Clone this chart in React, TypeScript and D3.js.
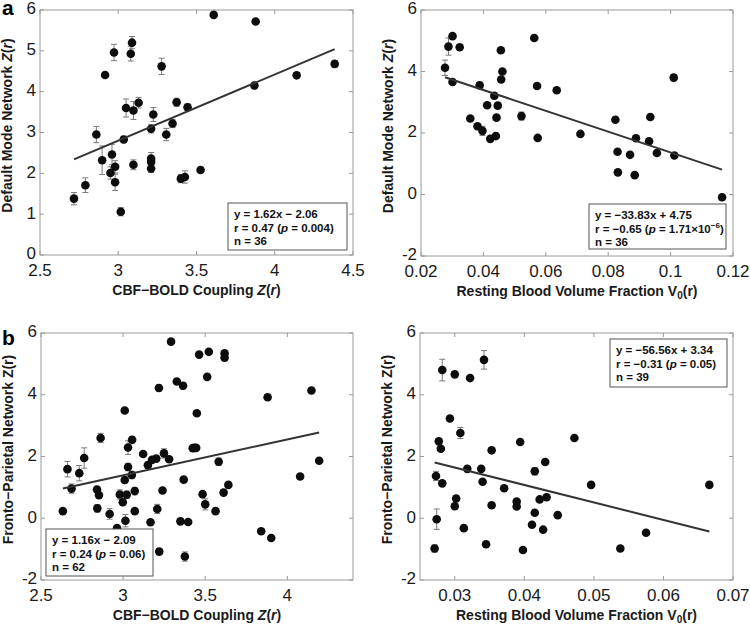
import React from "react";
import * as d3 from "d3";

// ---------- DATA ----------
// Panel a-left: CBF-BOLD coupling vs DMN
const x1 = [2.717, 2.79, 2.86, 2.916, 2.897, 2.95, 2.96, 2.973, 2.98, 2.98, 3.016, 3.035, 3.05, 3.08, 3.088, 3.097, 3.097, 3.13, 3.21, 3.21, 3.21, 3.21, 3.224, 3.277, 3.307, 3.347, 3.373, 3.40, 3.426, 3.443, 3.526, 3.61, 3.878, 3.87, 4.14, 4.383];
const y1 = [1.38, 1.71, 2.95, 4.41, 2.32, 2.01, 2.46, 4.96, 1.78, 2.16, 1.06, 2.83, 3.6, 4.93, 5.2, 3.54, 2.21, 3.73, 3.09, 2.36, 2.28, 2.12, 3.44, 4.62, 2.95, 3.22, 3.74, 1.87, 1.91, 3.62, 2.08, 5.88, 5.72, 4.15, 4.40, 4.68];
const e1 = [0.15, 0.18, 0.2, 0, 0.35, 0.15, 0.25, 0.2, 0.2, 0.15, 0.1, 0.08, 0.22, 0.18, 0.15, 0.22, 0.12, 0.13, 0.1, 0.15, 0, 0.1, 0.17, 0.2, 0.15, 0.1, 0.1, 0.1, 0.15, 0.08, 0, 0, 0, 0.08, 0, 0.08];

// Panel a-right: V0 vs DMN
const x2 = [0.0277, 0.0288, 0.0301, 0.0301, 0.0324, 0.0358, 0.0381, 0.0388, 0.0397, 0.0412, 0.0422, 0.0435, 0.044, 0.0442, 0.0446, 0.0456, 0.0457, 0.0461, 0.0522, 0.0563, 0.0572, 0.0574, 0.0635, 0.0711, 0.0823, 0.083, 0.0831, 0.087, 0.0889, 0.0885, 0.0931, 0.0935, 0.0956, 0.101, 0.1012, 0.1165];
const y2 = [4.12, 4.81, 5.15, 3.66, 4.79, 2.47, 2.22, 3.55, 2.07, 2.90, 1.81, 3.21, 1.90, 2.50, 2.89, 4.69, 3.74, 4.0, 2.55, 5.09, 3.53, 1.84, 3.39, 1.97, 2.43, 1.39, 0.72, 1.29, 1.83, 0.63, 1.73, 2.52, 1.35, 3.80, 1.27, -0.09];
const e2 = [0.25, 0.28, 0, 0.05, 0, 0, 0, 0.1, 0.15, 0, 0, 0.1, 0, 0, 0, 0, 0.08, 0, 0.13, 0, 0.08, 0, 0, 0, 0, 0, 0, 0.08, 0, 0, 0, 0, 0, 0.1, 0, 0];

// Panel b-left: CBF-BOLD coupling vs FPN
const x3 = [2.633, 2.661, 2.686, 2.733, 2.763, 2.841, 2.853, 2.843, 2.863, 2.918, 2.963, 2.98, 2.998, 3.01, 3.014, 3.01, 3.022, 3.03, 3.03, 3.053, 3.055, 3.071, 3.071, 3.122, 3.151, 3.167, 3.176, 3.202, 3.208, 3.218, 3.22, 3.24, 3.249, 3.28, 3.292, 3.327, 3.349, 3.365, 3.369, 3.376, 3.396, 3.424, 3.445, 3.449, 3.463, 3.484, 3.50, 3.512, 3.522, 3.563, 3.582, 3.612, 3.618, 3.618, 3.641, 3.841, 3.88, 3.902, 4.078, 4.147, 4.194, 3.435];
const y3 = [0.23, 1.59, 0.96, 1.46, 1.95, 0.93, 0.75, 0.32, 2.60, 0.14, -0.32, 0.77, 0.52, 3.49, -0.08, 1.24, 0.76, 2.29, 1.66, 1.40, 2.54, 0.88, 0.23, 2.08, 1.72, -0.13, 1.89, 1.93, 0.30, 4.22, -1.08, 0.90, 2.10, 1.91, 5.72, 4.43, -0.10, 4.29, 1.25, -1.24, -0.12, 2.27, 2.28, 3.40, 5.30, 0.78, 0.45, 4.58, 5.39, 0.23, 1.83, 0.83, 5.34, 5.20, 1.08, -0.42, 3.92, -0.64, 1.35, 4.14, 1.86, 2.28];
const e3 = [0, 0.25, 0.15, 0.25, 0.33, 0.1, 0, 0.12, 0.15, 0.17, 0, 0.15, 0.08, 0, 0.2, 0.1, 0.12, 0.22, 0.12, 0.12, 0.1, 0.12, 0, 0, 0.1, 0, 0, 0, 0.15, 0.1, 0.1, 0, 0.15, 0, 0, 0, 0, 0.1, 0, 0.15, 0, 0, 0, 0, 0, 0, 0.18, 0, 0, 0, 0.12, 0, 0, 0.1, 0, 0, 0, 0, 0, 0, 0, 0];

// Panel b-right: V0 vs FPN
const x4 = [0.0271, 0.0273, 0.0274, 0.0277, 0.028, 0.0282, 0.0282, 0.0293, 0.030, 0.030, 0.0302, 0.0308, 0.0313, 0.0318, 0.0322, 0.0338, 0.034, 0.0342, 0.0345, 0.0353, 0.0353, 0.0371, 0.0389, 0.0389, 0.0394, 0.0398, 0.0411, 0.0415, 0.0415, 0.0422, 0.0427, 0.043, 0.0432, 0.0448, 0.0472, 0.0496, 0.0538, 0.0575, 0.0666];
const y4 = [-0.98, 1.37, -0.03, 2.49, 2.25, 1.13, 4.80, 3.23, 4.66, 0.39, 0.64, 2.76, -0.32, 1.60, 4.54, 1.60, 1.18, 5.13, -0.84, 0.42, 2.20, 0.97, 0.54, 0.38, 2.47, -1.03, -0.21, 1.52, 0.18, 0.61, -0.37, 1.82, 0.68, 0.10, 2.60, 1.08, -0.98, -0.47, 1.08];
const e4 = [0.12, 0.15, 0.33, 0, 0, 0, 0.35, 0.08, 0.07, 0.1, 0.1, 0.18, 0, 0, 0, 0, 0, 0.3, 0, 0, 0, 0, 0, 0, 0, 0, 0, 0.12, 0, 0, 0, 0, 0, 0, 0, 0, 0, 0, 0];

// Regression fits (slope, intercept)
const fit1 = [1.62, -2.06];
const fit2 = [-33.83, 4.75];
const fit3 = [1.16, -2.09];
const fit4 = [-56.56, 3.34];

// Tick values and labels
const xt1 = [2.5, 3, 3.5, 4, 4.5];
const xl1 = ["2.5", "3", "3.5", "4", "4.5"];
const yt1 = [0, 1, 2, 3, 4, 5, 6];
const yl1 = ["0", "1", "2", "3", "4", "5", "6"];
const xt2 = [0.02, 0.04, 0.06, 0.08, 0.1, 0.12];
const xl2 = ["0.02", "0.04", "0.06", "0.08", "0.1", "0.12"];
const ytN = [-2, 0, 2, 4, 6];
const ylN = ["-2", "0", "2", "4", "6"];
const xt3 = [2.5, 3, 3.5, 4];
const xl3 = ["2.5", "3", "3.5", "4"];
const xt4 = [0.03, 0.04, 0.05, 0.06, 0.07];
const xl4 = ["0.03", "0.04", "0.05", "0.06", "0.07"];

const legend1 = ["y = 1.62x \u2212 2.06", "r = 0.47 (", "p", " = 0.004)", "n = 36"];
const legend2 = ["y = \u221233.83x + 4.75", "r = \u22120.65 (", "p", " = 1.71\u00d710", "\u22126", ")", "n = 36"];
const legend3 = ["y = 1.16x \u2212 2.09", "r = 0.24 (", "p", " = 0.06)", "n = 62"];
const legend4 = ["y = \u221256.56x + 3.34", "r = \u22120.31 (", "p", " = 0.05)", "n = 39"];

const FONT = "'Liberation Sans', Arial, Helvetica, sans-serif";

type PanelProps = {
  xs: number[]; ys: number[]; es: number[]; fit: number[];
  xDom: [number, number]; yDom: [number, number];
  xr: [number, number]; yr: [number, number];
  xt: number[]; xl: string[]; yt: number[]; yl: string[];
  xTitle: React.ReactNode; yTitle: React.ReactNode;
  legend: React.ReactNode; box: [number, number, number, number];
};

function Panel(p: PanelProps) {
  const x = d3.scaleLinear().domain(p.xDom).range(p.xr);
  const y = d3.scaleLinear().domain(p.yDom).range(p.yr);
  const [L, R] = p.xr;
  const [B, T] = p.yr;
  const x0 = d3.min(p.xs) as number;
  const x1v = d3.max(p.xs) as number;
  const line = d3.line<number>().x((v) => x(v)).y((v) => y(p.fit[0] * v + p.fit[1]));
  const tl = 4;
  const cy = (T + B) / 2 - 7;
  const [bx, by, bw, bh] = p.box;
  return (
    <g fontFamily={FONT}>
      {p.xt.map((t, i) => (
        <g key={"xt" + i}>
          <line x1={x(t)} x2={x(t)} y1={B} y2={B - tl} stroke="#999" />
          <line x1={x(t)} x2={x(t)} y1={T} y2={T + tl} stroke="#999" />
          <text x={x(t)} y={B + 17} fontSize={17} textAnchor="middle" dominantBaseline="middle" fill="#1a1a1a">{p.xl[i]}</text>
        </g>
      ))}
      {p.yt.map((t, i) => (
        <g key={"yt" + i}>
          <line x1={L} x2={L + tl} y1={y(t)} y2={y(t)} stroke="#999" />
          <line x1={R} x2={R - tl} y1={y(t)} y2={y(t)} stroke="#999" />
          <text x={L - 4} y={y(t)} fontSize={17} textAnchor="end" dominantBaseline="middle" fill="#1a1a1a">{p.yl[i]}</text>
        </g>
      ))}
      <rect x={L} y={T} width={R - L} height={B - T} fill="none" stroke="#9a9a9a" strokeWidth={1} />
      {p.xs.map((xv, i) => p.es[i] > 0 ? (
        <g key={"e" + i} stroke="#7a7a7a" strokeWidth={1}>
          <line x1={x(xv)} x2={x(xv)} y1={y(p.ys[i] - p.es[i])} y2={y(p.ys[i] + p.es[i])} />
          <line x1={x(xv) - 3} x2={x(xv) + 3} y1={y(p.ys[i] - p.es[i])} y2={y(p.ys[i] - p.es[i])} />
          <line x1={x(xv) - 3} x2={x(xv) + 3} y1={y(p.ys[i] + p.es[i])} y2={y(p.ys[i] + p.es[i])} />
        </g>
      ) : null)}
      {p.xs.map((xv, i) => (
        <circle key={"p" + i} cx={x(xv)} cy={y(p.ys[i])} r={4.3} fill="#0d0d0d" />
      ))}
      <path d={line([x0, x1v]) || ""} stroke="#333" strokeWidth={2} fill="none" />
      <rect x={bx} y={by} width={bw} height={bh} fill="#fff" stroke="#555" strokeWidth={1} />
      <g fontSize={11.5} fontWeight="bold" fill="#111">{p.legend}</g>
      <text x={(L + R) / 2} y={B + 36} fontSize={14} fontWeight="bold" textAnchor="middle" dominantBaseline="middle" fill="#1a1a1a">{p.xTitle}</text>
      <text transform={`translate(${L - 32},${cy}) rotate(-90)`} fontSize={14} fontWeight="bold" textAnchor="middle" dominantBaseline="middle" fill="#1a1a1a">{p.yTitle}</text>
    </g>
  );
}

function Legend3({ lines, box, sup }: { lines: string[]; box: number[]; sup?: boolean }) {
  const [bx, by] = box;
  const tx = bx + 6;
  if (sup) {
    return (
      <>
        <text x={tx} y={by + 12} dominantBaseline="middle">{lines[0]}</text>
        <text x={tx} y={by + 26} dominantBaseline="middle">{lines[1]}<tspan fontStyle="italic">{lines[2]}</tspan>{lines[3]}<tspan fontSize={8} dy={-4}>{lines[4]}</tspan><tspan dy={4}>{lines[5]}</tspan></text>
        <text x={tx} y={by + 39} dominantBaseline="middle">{lines[6]}</text>
      </>
    );
  }
  return (
    <>
      <text x={tx} y={by + 12} dominantBaseline="middle">{lines[0]}</text>
      <text x={tx} y={by + 26} dominantBaseline="middle">{lines[1]}<tspan fontStyle="italic">{lines[2]}</tspan>{lines[3]}</text>
      <text x={tx} y={by + 39} dominantBaseline="middle">{lines[4]}</text>
    </>
  );
}

const cbfTitle = <>CBF{"\u2212"}BOLD Coupling <tspan fontStyle="italic">Z</tspan>(<tspan fontStyle="italic">r</tspan>)</>;
const v0Title = <>Resting Blood Volume Fraction V<tspan fontSize={10} dy={4}>0</tspan><tspan dy={-4}>(r)</tspan></>;
const dmnTitle = <>Default Mode Network <tspan fontStyle="italic">Z</tspan>(<tspan fontStyle="italic">r</tspan>)</>;
const fpnTitle = <>Fronto{"\u2212"}Parietal Network Z(r)</>;

export default function App() {
  const b1: [number, number, number, number] = [228, 203, 119, 47];
  const b2: [number, number, number, number] = [589, 204, 137, 45];
  const b3: [number, number, number, number] = [46, 529, 107, 47];
  const b4: [number, number, number, number] = [610, 339, 117, 48];
  return (
    <svg width={750} height={625} style={{ position: "absolute", left: 0, top: 0, background: "#fff" }}>
      <rect width={750} height={625} fill="#fff" />
      <Panel xs={x1} ys={y1} es={e1} fit={fit1} xDom={[2.5, 4.5]} yDom={[0, 6]} xr={[40, 353]} yr={[255, 10]}
        xt={xt1} xl={xl1} yt={yt1} yl={yl1} xTitle={cbfTitle} yTitle={dmnTitle}
        legend={<Legend3 lines={legend1} box={b1} />} box={b1} />
      <Panel xs={x2} ys={y2} es={e2} fit={fit2} xDom={[0.02, 0.12]} yDom={[-2, 6]} xr={[421, 733]} yr={[256, 10]}
        xt={xt2} xl={xl2} yt={ytN} yl={ylN} xTitle={v0Title} yTitle={dmnTitle}
        legend={<Legend3 lines={legend2} box={b2} sup />} box={b2} />
      <Panel xs={x3} ys={y3} es={e3} fit={fit3} xDom={[2.5, 4.4]} yDom={[-2, 6]} xr={[41, 353]} yr={[580, 333]}
        xt={xt3} xl={xl3} yt={ytN} yl={ylN} xTitle={cbfTitle} yTitle={fpnTitle}
        legend={<Legend3 lines={legend3} box={b3} />} box={b3} />
      <Panel xs={x4} ys={y4} es={e4} fit={fit4} xDom={[0.025, 0.07]} yDom={[-2, 6]} xr={[420, 733]} yr={[580, 333]}
        xt={xt4} xl={xl4} yt={ytN} yl={ylN} xTitle={v0Title} yTitle={fpnTitle}
        legend={<Legend3 lines={legend4} box={b4} />} box={b4} />
      <text x={2} y={15} fontFamily={FONT} fontSize={21} fontWeight="bold">a</text>
      <text x={2} y={345} fontFamily={FONT} fontSize={21} fontWeight="bold">b</text>
    </svg>
  );
}
